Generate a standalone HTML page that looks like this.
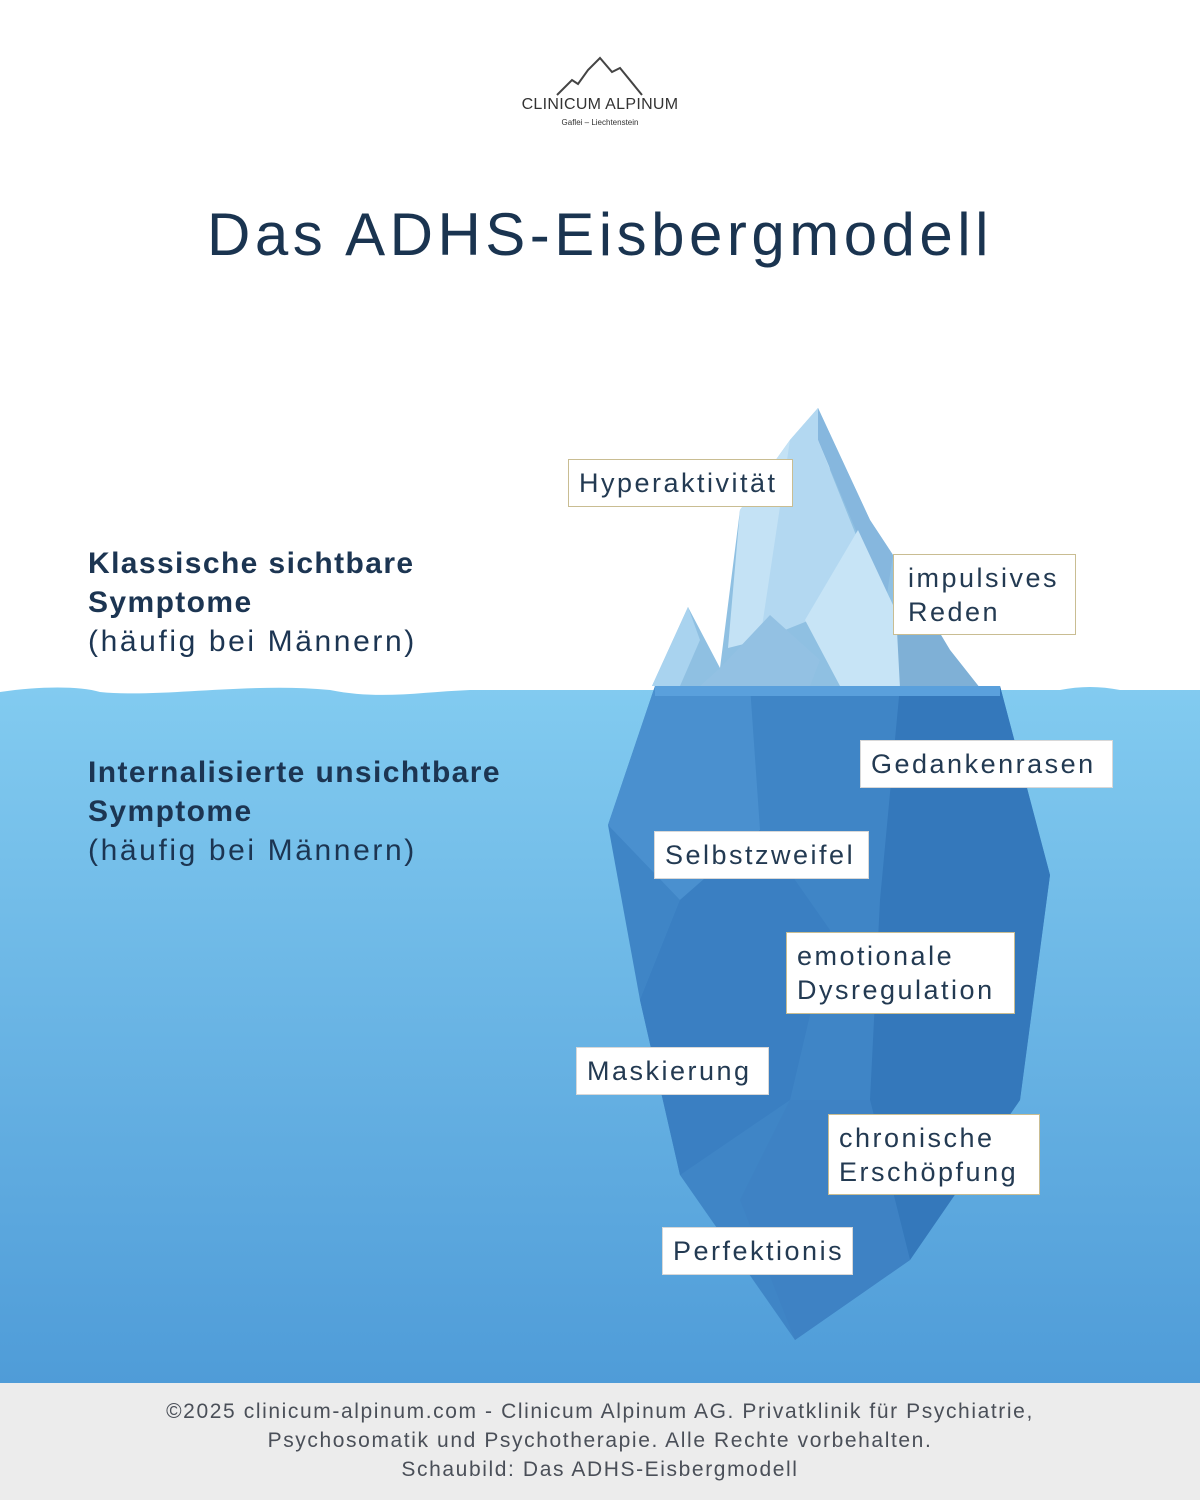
<!DOCTYPE html>
<html><head><meta charset="utf-8"><style>
body{margin:0;width:1200px;height:1500px;position:relative;overflow:hidden;background:#fff;font-family:"Liberation Sans",sans-serif;color:#1c3552}
.lbl{position:absolute;background:#fff;border:1.5px solid #c9bd92;font-size:27px;line-height:34px;padding:6px 10px;box-sizing:border-box;color:#233a52;letter-spacing:2.5px;white-space:nowrap}
.lw{border-color:#d8d8d8}
.h{position:absolute;left:88px;font-size:30px;line-height:39px;letter-spacing:2.6px;white-space:nowrap}
.h b{letter-spacing:1.4px}
</style></head><body>
<svg width="1200" height="1500" style="position:absolute;left:0;top:0">
<defs><linearGradient id="w" x1="0" y1="0" x2="0" y2="1"><stop offset="0" stop-color="#82cbf0"/><stop offset="1" stop-color="#4f9cd8"/></linearGradient></defs>
<polyline points="557,95 572,80 578,84 588,70 600,58 612,72 620,68 642,95" fill="none" stroke="#444" stroke-width="2"/>
<path d="M0,692 C40,686 80,686 100,692 C160,698 250,682 330,690 C380,700 420,692 470,690 L1060,690 C1080,686 1100,686 1120,690 L1200,690 L1200,1383 L0,1383 Z" fill="url(#w)"/>
<polygon points="652,686 688,607 720,668 740,510 790,440 818,408 870,520 893,555 950,650 980,688" fill="#8fc0e2"/>
<polygon points="740,510 790,440 818,408 830,470 760,640 728,648" fill="#c4e2f5"/>
<polygon points="818,408 870,520 893,555 880,640 860,540 818,440" fill="#86b7de"/>
<polygon points="790,440 818,408 818,440 858,540 810,620 760,640" fill="#b3d8f1"/>
<polygon points="805,620 858,530 900,620 900,686 840,686" fill="#c7e4f6"/>
<polygon points="652,686 688,607 700,640 680,686" fill="#a9d3ef"/>
<polygon points="720,668 770,615 820,660 810,686 700,686" fill="#93c1e3"/>
<polygon points="893,555 950,650 980,688 900,688" fill="#7fb0d6"/>
<polygon points="655,686 1000,686 1050,875 1020,1100 910,1260 795,1340 680,1175 640,1000 608,825" fill="#3f85c6"/>
<polygon points="655,686 750,686 760,830 680,900 608,825" fill="#4a90cf"/>
<polygon points="900,686 1000,686 1050,875 1020,1100 910,1260 870,1100 880,900" fill="#3478bb"/>
<polygon points="680,900 760,830 830,930 790,1100 680,1175 640,1000" fill="#3a7fc2"/>
<polygon points="790,1100 870,1100 910,1260 795,1340 740,1200" fill="#3e82c4"/>
<polygon points="655,686 1000,686 1000,696 655,696" fill="#5aa0dc"/>
</svg>
<div style="position:absolute;left:0;width:1200px;top:96px;text-align:center;font-size:16px;color:#333;letter-spacing:0.3px">CLINICUM ALPINUM</div>
<div style="position:absolute;left:0;width:1200px;top:118px;text-align:center;font-size:8px;color:#333">Gaflei – Liechtenstein</div>
<div style="position:absolute;left:0;width:1200px;top:200px;text-align:center;font-size:60px;color:#1a3450;letter-spacing:4.5px">Das ADHS-Eisbergmodell</div>
<div class="h" style="top:544px"><b>Klassische sichtbare<br>Symptome</b><br>(häufig bei Männern)</div>
<div class="h" style="top:753px"><b>Internalisierte unsichtbare<br>Symptome</b><br>(häufig bei Männern)</div>
<div class="lbl" style="left:568px;top:459px;width:225px;height:48px">Hyperaktivität</div>
<div class="lbl" style="left:893px;top:554px;width:183px;height:81px;padding-left:14px">impulsives<br>Reden</div>
<div class="lbl lw" style="left:860px;top:740px;width:253px;height:48px">Gedankenrasen</div>
<div class="lbl lw" style="left:654px;top:831px;width:215px;height:48px">Selbstzweifel</div>
<div class="lbl" style="left:786px;top:932px;width:229px;height:82px">emotionale<br>Dysregulation</div>
<div class="lbl lw" style="left:576px;top:1047px;width:193px;height:48px">Maskierung</div>
<div class="lbl" style="left:828px;top:1114px;width:212px;height:81px">chronische<br>Erschöpfung</div>
<div class="lbl lw" style="left:662px;top:1227px;width:191px;height:48px">Perfektionis</div>
<div style="position:absolute;left:0;top:1383px;width:1200px;height:117px;background:#ececec;text-align:center;font-size:21px;line-height:29px;color:#4a4f58;padding-top:14px;box-sizing:border-box;letter-spacing:1.6px">©2025 clinicum-alpinum.com - Clinicum Alpinum AG. Privatklinik für Psychiatrie,<br>Psychosomatik und Psychotherapie. Alle Rechte vorbehalten.<br>Schaubild: Das ADHS-Eisbergmodell</div>
</body></html>
